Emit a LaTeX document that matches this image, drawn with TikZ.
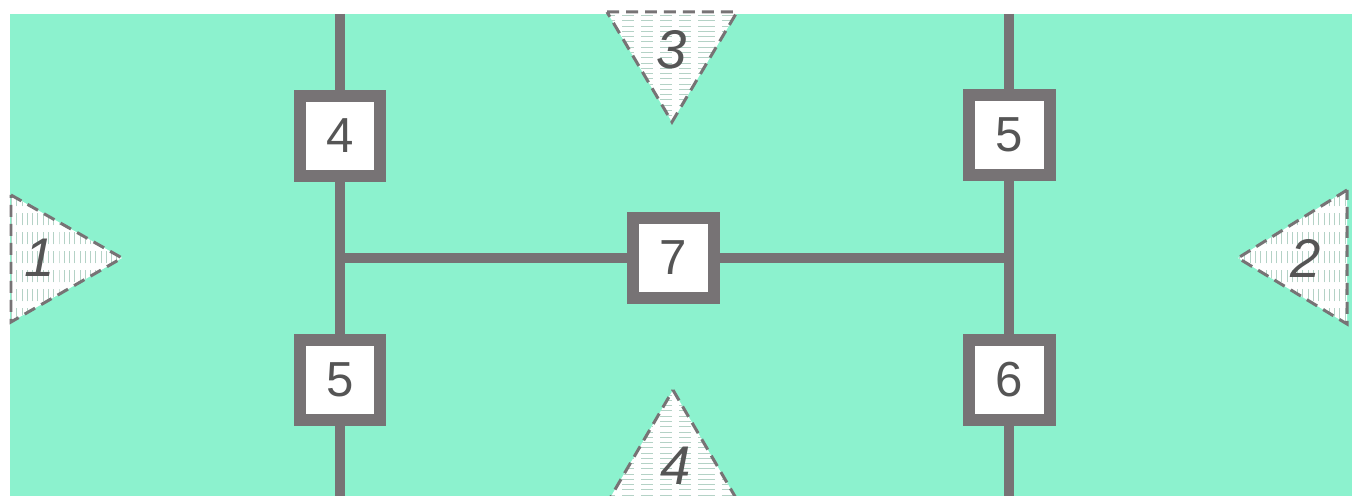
\documentclass[tikz,border=0pt]{standalone}
\usepackage{fontspec}
\setsansfont{Liberation Sans}
\usetikzlibrary{patterns}
\definecolor{mint}{HTML}{8CF2CE}
\definecolor{wire}{HTML}{777375}
\definecolor{hatch}{HTML}{B4D2C6}
\definecolor{digit}{HTML}{555555}

\begin{document}
\begin{tikzpicture}[x=0.02cm, y=-0.02cm,
  unit/.style={rectangle, draw=wire, line width=0.24cm, fill=white, minimum size=1.62cm,
    inner sep=0pt, text=digit, font=\sffamily\fontsize{28}{30}\selectfont},
  link/.style={draw=wire, line width=0.2cm},
  port/.style={draw=wire, line width=0.06cm, dash pattern=on 0.24cm off 0.14cm,
    preaction={fill=white}, pattern color=hatch},
  tag/.style={text=digit, font=\sffamily\itshape\fontsize{31}{33}\selectfont}
]
  % page and background
  \useasboundingbox (0,0) rectangle (1352,496);
  \clip (0,0) rectangle (1352,496);
  \fill[white] (0,0) rectangle (1352,496);
  \fill[mint] (10,14) rectangle (1352,496);

  % ports
  \draw[port, pattern=horizontal lines] (607,12) -- (737,12) -- (672,122) -- cycle;
  \draw[port, pattern=horizontal lines] (673,390) -- (740,505) -- (606,505) -- cycle;
  \draw[port, pattern=vertical lines] (11,195) -- (122,258) -- (11,322) -- cycle;
  \draw[port, pattern=vertical lines] (1347,190) -- (1238,258) -- (1347,324) -- cycle;
  \node[tag] (t3) at (672,50) {3};
  \node[tag] (t4) at (676,466) {4};
  \node[tag] (t1) at (40,258) {1};
  \node[tag] (t2) at (1306,258) {2};

  % units
  \node[unit] (u4) at (340,136) {4};
  \node[unit] (u5a) at (1009,135) {5};
  \node[unit] (u7) at (673,258) {7};
  \node[unit] (u5b) at (340,380) {5};
  \node[unit] (u6) at (1009,380) {6};

  % wiring
  \coordinate (lt) at (340,14);
  \coordinate (lb) at (340,496);
  \coordinate (rt) at (1009,14);
  \coordinate (rb) at (1009,496);
  \coordinate (jl) at (340,258);
  \coordinate (jr) at (1009,258);
  \draw[link] (lt) -- (u4);
  \draw[link] (u4) -- (u5b);
  \draw[link] (u5b) -- (lb);
  \draw[link] (rt) -- (u5a);
  \draw[link] (u5a) -- (u6);
  \draw[link] (u6) -- (rb);
  \draw[link] (jl) -- (u7);
  \draw[link] (u7) -- (jr);
\end{tikzpicture}
\end{document}
